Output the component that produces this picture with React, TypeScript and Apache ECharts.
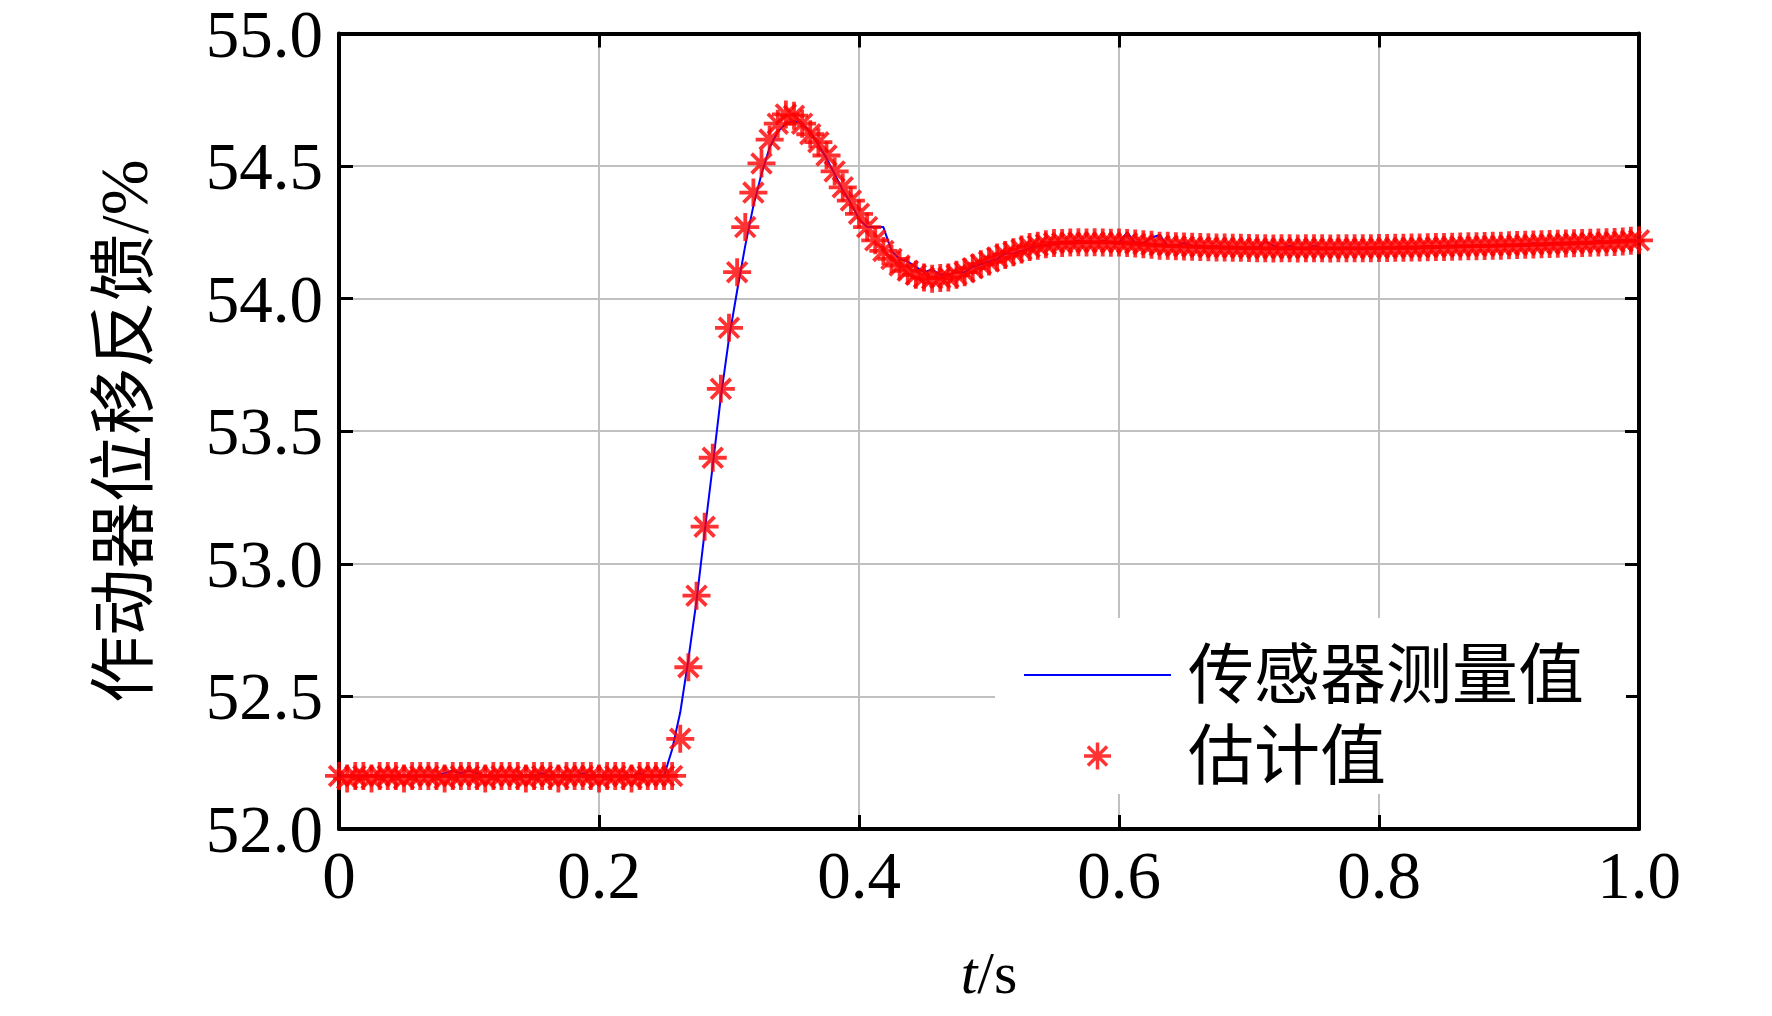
import React, { useEffect, useRef } from 'react';
import * as echarts from 'echarts';

const STEP = 0.00625;

const measured = [
  52.20, 52.20, 52.20, 52.20, 52.20, 52.20, 52.20, 52.20, 52.20, 52.20,
  52.20, 52.20, 52.20, 52.21, 52.22, 52.21, 52.22, 52.21, 52.20, 52.20,
  52.20, 52.20, 52.20, 52.20, 52.20, 52.21, 52.20, 52.20, 52.20, 52.20,
  52.21, 52.20, 52.20, 52.20, 52.20, 52.20, 52.20, 52.21, 52.20, 52.20,
  52.20,
  52.30, 52.44, 52.64, 52.86, 53.12, 53.37, 53.63, 53.85, 54.03, 54.20,
  54.35, 54.47, 54.57, 54.63, 54.66, 54.67, 54.66, 54.63, 54.58, 54.53,
  54.47, 54.41, 54.36, 54.30, 54.27, 54.27, 54.27, 54.18, 54.15, 54.14,
  54.12, 54.10, 54.11, 54.09,
  54.09, 54.10, 54.10, 54.12, 54.13, 54.14, 54.15, 54.17, 54.17, 54.18, 54.19, 54.20, 54.20, 54.21,
  54.21, 54.21, 54.22, 54.21, 54.21, 54.22, 54.21, 54.21,
  54.25, 54.21, 54.21, 54.23, 54.24, 54.20, 54.20, 54.21, 54.20, 54.20, 54.19, 54.20, 54.19, 54.19, 54.19, 54.19,
  54.19, 54.215, 54.20, 54.19, 54.20, 54.19, 54.19, 54.20, 54.19, 54.19, 54.19, 54.19, 54.19, 54.19, 54.19, 54.19,
  54.19, 54.19, 54.19, 54.19, 54.19, 54.20, 54.19, 54.20, 54.20, 54.20, 54.20, 54.20, 54.20, 54.20, 54.20, 54.20,
  54.20, 54.20, 54.21, 54.20, 54.21, 54.21, 54.21, 54.21, 54.21, 54.21, 54.22, 54.21, 54.22, 54.22, 54.22, 54.22,
];

const estimated = [
  52.20, 52.19, 52.20, 52.20, 52.19, 52.20, 52.20, 52.20, 52.19, 52.20,
  52.20, 52.20, 52.20, 52.19, 52.20, 52.20, 52.20, 52.20, 52.19, 52.20,
  52.20, 52.20, 52.20, 52.19, 52.20, 52.20, 52.20, 52.19, 52.20, 52.20,
  52.20, 52.20, 52.19, 52.20, 52.20, 52.20, 52.19, 52.20, 52.20, 52.20,
  52.20,
  52.20, 52.34, 52.61, 52.88, 53.14, 53.40, 53.66, 53.89, 54.10, 54.27,
  54.40, 54.51, 54.60, 54.66, 54.695, 54.69, 54.66, 54.62, 54.59, 54.54,
  54.48, 54.42, 54.37, 54.32, 54.27, 54.22, 54.18, 54.15, 54.125, 54.105,
  54.09, 54.08, 54.075, 54.078,
  54.08, 54.09, 54.10, 54.115, 54.13, 54.14, 54.155, 54.165, 54.175, 54.185, 54.195, 54.20, 54.205, 54.21,
  54.21, 54.212, 54.213, 54.212, 54.213, 54.212, 54.211, 54.212,
  54.21, 54.208, 54.205, 54.203, 54.20, 54.20, 54.198, 54.197, 54.196, 54.195, 54.194, 54.193, 54.193, 54.192, 54.192, 54.191,
  54.19, 54.19, 54.189, 54.19, 54.19, 54.189, 54.19, 54.19, 54.19, 54.189, 54.19, 54.19, 54.19, 54.19, 54.19, 54.191,
  54.191, 54.192, 54.192, 54.193, 54.193, 54.194, 54.195, 54.195, 54.196, 54.197, 54.198, 54.198, 54.199, 54.20, 54.20, 54.201,
  54.202, 54.203, 54.204, 54.205, 54.206, 54.207, 54.208, 54.209, 54.21, 54.211, 54.212, 54.213, 54.214, 54.216, 54.218, 54.22,
];

const seriesNames = ['传感器测量值', '估计值'];
const xRange = [0, 1];
const xInterval = 0.2;
const yRange = [52, 55];
const yInterval = 0.5;

const SERIF = '"Liberation Serif", "Times New Roman", "Noto Sans CJK SC", serif';
const ASTERISK =
  'path://M0,-10L0,10M-10,0L10,0M-7.07,-7.07L7.07,7.07M-7.07,7.07L7.07,-7.07';

const mkLine = () => ({ show: true, onZero: false, lineStyle: { color: '#000', width: 4 } });
const mkTick = () => ({ show: true, inside: true, length: 14, lineStyle: { color: '#000', width: 3 } });

export default function App() {
  const ref = useRef<HTMLDivElement>(null);
  useEffect(() => {
    const chart = echarts.init(ref.current!, null, { renderer: 'svg' });
    const measuredData = measured.map((v, i) => [i * STEP, v]);
    const estimatedData = estimated.map((v, i) => [i * STEP, v]);
    chart.setOption({
      animation: false,
      backgroundColor: '#fff',
      grid: { left: 339, right: 133, top: 33, bottom: 187, containLabel: false },
      legend: {
        left: 995,
        top: 618,
        orient: 'vertical',
        backgroundColor: '#fff',
        padding: [24, 42, 5, 28],
        itemGap: 15,
        itemWidth: 147,
        itemHeight: 27,
        textStyle: { fontSize: 66, lineHeight: 66, fontFamily: SERIF, color: '#000', padding: [0, 0, 0, 12] },
        data: [
          { name: seriesNames[0], itemStyle: { color: 'rgba(0,0,0,0)', borderWidth: 0, opacity: 0 } },
          { name: seriesNames[1], itemStyle: { borderWidth: 3.5, borderColor: '#FF0000', color: '#FF0000' } },
        ],
      },
      xAxis: [
        {
          type: 'value',
          position: 'bottom',
          min: xRange[0],
          max: xRange[1],
          interval: xInterval,
          axisLine: mkLine(),
          axisTick: mkTick(),
          axisLabel: {
            margin: 18,
            fontSize: 67,
            lineHeight: 56,
            fontFamily: SERIF,
            color: '#000',
            formatter: (v: number) => (v === 0 ? '0' : v.toFixed(1)),
          },
          splitLine: { show: true, lineStyle: { color: '#C0C0C0', width: 2 } },
          name: '{i|t}/s',
          nameLocation: 'middle',
          nameGap: 114,
          nameTextStyle: {
            fontSize: 60,
            fontFamily: SERIF,
            color: '#000',
            rich: { i: { fontSize: 60, fontFamily: SERIF, fontStyle: 'italic', color: '#000' } },
          },
        },
        {
          type: 'value',
          position: 'top',
          min: xRange[0],
          max: xRange[1],
          interval: xInterval,
          axisLine: mkLine(),
          axisTick: mkTick(),
          axisLabel: { show: false },
          splitLine: { show: false },
        },
      ],
      yAxis: [
        {
          type: 'value',
          position: 'left',
          min: yRange[0],
          max: yRange[1],
          interval: yInterval,
          axisLine: mkLine(),
          axisTick: mkTick(),
          axisLabel: {
            margin: 16,
            fontSize: 67,
            lineHeight: 46,
            fontFamily: SERIF,
            color: '#000',
            formatter: (v: number) => v.toFixed(1),
          },
          splitLine: { show: true, lineStyle: { color: '#C0C0C0', width: 2 } },
          name: '作动器位移反馈/%',
          nameLocation: 'middle',
          nameGap: 182,
          nameRotate: 90,
          nameTextStyle: { fontSize: 67, fontFamily: SERIF, color: '#000' },
        },
        {
          type: 'value',
          position: 'right',
          min: yRange[0],
          max: yRange[1],
          interval: yInterval,
          axisLine: mkLine(),
          axisTick: mkTick(),
          axisLabel: { show: false },
          splitLine: { show: false },
        },
      ],
      series: [
        {
          name: seriesNames[0],
          type: 'line',
          data: measuredData,
          symbol: 'none',
          lineStyle: { color: '#0000FF', width: 2 },
          itemStyle: { color: '#0000FF' },
          z: 2,
        },
        {
          name: seriesNames[1],
          type: 'scatter',
          data: estimatedData,
          symbol: ASTERISK,
          symbolSize: 28,
          itemStyle: { color: '#FF0000', borderColor: '#FF0000', borderWidth: 3.8 },
          z: 3,
        },
      ],
    });
    return () => chart.dispose();
  }, []);
  return (
    <div
      ref={ref}
      style={{ position: 'fixed', left: 0, top: 0, width: 1772, height: 1016, background: '#fff' }}
    />
  );
}
